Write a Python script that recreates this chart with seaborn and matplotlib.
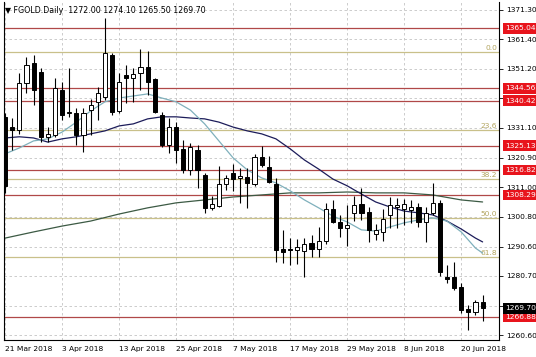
import matplotlib
matplotlib.use("Agg")
import matplotlib.pyplot as plt
import matplotlib.transforms as mtransforms
import seaborn as sns
import numpy as np

sns.set_style("white")
plt.rcParams["font.family"] = ["DejaVu Sans"]

# 日线K线数据
opens = [1335.0, 1331.5, 1330.4, 1346.4, 1353.3, 1350.2, 1328.0, 1328.7, 1344.1, 1336.2,
         1336.2, 1328.7, 1337.2, 1339.9, 1341.7, 1356.0, 1336.9, 1349.1, 1348.1, 1349.8,
         1351.9, 1347.8, 1335.5, 1325.3, 1331.4, 1323.9, 1316.8, 1323.6, 1315.1, 1303.9,
         1304.5, 1312.0, 1315.8, 1314.1, 1314.4, 1312.0, 1321.2, 1317.8, 1312.0, 1289.9,
         1289.8, 1289.6, 1289.2, 1292.0, 1289.9, 1292.6, 1303.5, 1299.1, 1297.1, 1302.2,
         1305.2, 1302.5, 1295.1, 1295.8, 1301.5, 1304.2, 1303.5, 1303.2, 1304.2, 1299.1,
         1302.2, 1305.6, 1280.4, 1280.4, 1276.9, 1269.4, 1268.4, 1272.0]
highs = [1336.2, 1334.5, 1349.8, 1355.3, 1356.0, 1351.5, 1331.4, 1348.1, 1346.8, 1351.5,
         1337.9, 1337.9, 1341.0, 1345.1, 1368.6, 1356.7, 1349.8, 1352.6, 1351.5, 1358.0,
         1357.3, 1348.1, 1336.6, 1334.5, 1333.2, 1327.0, 1326.0, 1325.3, 1315.8, 1307.9,
         1318.2, 1315.1, 1318.8, 1317.5, 1317.5, 1322.3, 1325.0, 1321.6, 1314.1, 1296.4,
         1293.7, 1293.3, 1293.7, 1294.7, 1297.4, 1305.6, 1306.6, 1301.5, 1304.9, 1308.0,
         1310.7, 1304.2, 1298.4, 1303.5, 1307.6, 1307.3, 1306.9, 1306.6, 1305.6, 1304.2,
         1312.4, 1306.6, 1284.5, 1285.5, 1278.3, 1270.8, 1272.5, 1274.1]
lows = [1309.0, 1323.6, 1329.0, 1343.0, 1339.0, 1326.3, 1326.3, 1328.0, 1333.8, 1334.9,
        1325.3, 1322.9, 1328.7, 1333.8, 1340.6, 1335.5, 1336.2, 1339.6, 1340.0, 1344.1,
        1342.4, 1336.2, 1324.6, 1322.6, 1319.2, 1315.8, 1315.1, 1310.7, 1302.2, 1303.2,
        1304.2, 1310.0, 1309.7, 1305.6, 1303.9, 1311.4, 1317.8, 1312.4, 1285.5, 1285.2,
        1284.5, 1284.8, 1280.4, 1287.2, 1287.2, 1291.6, 1298.8, 1294.0, 1290.9, 1299.4,
        1299.8, 1292.3, 1293.0, 1292.6, 1297.1, 1297.1, 1298.1, 1298.8, 1297.4, 1292.3,
        1301.5, 1280.7, 1278.3, 1275.9, 1268.1, 1262.3, 1267.4, 1265.5]
closes = [1311.5, 1330.4, 1346.4, 1352.6, 1344.1, 1328.0, 1329.1, 1344.7, 1335.5, 1336.6,
          1328.7, 1336.2, 1338.9, 1343.0, 1356.7, 1336.6, 1346.8, 1348.1, 1349.5, 1351.9,
          1346.8, 1336.6, 1325.3, 1331.4, 1323.6, 1316.8, 1324.6, 1316.8, 1303.9, 1305.2,
          1312.0, 1314.1, 1313.7, 1314.8, 1312.4, 1321.2, 1318.5, 1312.7, 1289.6, 1288.9,
          1289.4, 1290.6, 1291.6, 1289.9, 1292.6, 1303.5, 1299.1, 1297.1, 1298.1, 1304.9,
          1302.2, 1296.4, 1296.4, 1300.2, 1304.9, 1304.9, 1305.2, 1304.2, 1299.1, 1302.2,
          1305.6, 1282.1, 1279.7, 1276.6, 1269.1, 1268.4, 1271.8, 1269.7]

# 均线 (每两根K线读一个值)
ma_fast = [1322.3, 1324.3, 1326.7, 1327.4, 1329.7, 1333.1, 1336.9, 1340.0, 1341.3, 1342.0,
           1342.7, 1341.3, 1340.0, 1337.2, 1332.5, 1326.7, 1320.9, 1316.8, 1314.1, 1312.4,
           1309.7, 1306.6, 1303.9, 1301.1, 1299.1, 1296.4, 1296.0, 1297.4, 1298.8, 1299.8,
           1300.5, 1299.4, 1295.7, 1290.2, 1288.5]
ma_mid = [1327.7, 1328.1, 1327.7, 1326.3, 1327.4, 1328.1, 1329.1, 1330.1, 1331.8, 1332.5,
          1334.2, 1334.9, 1334.9, 1334.5, 1334.2, 1333.1, 1331.4, 1330.1, 1329.1, 1327.4,
          1324.0, 1320.2, 1317.1, 1313.7, 1311.4, 1308.6, 1305.9, 1304.2, 1302.8, 1302.2,
          1301.5, 1299.4, 1296.7, 1293.6, 1292.3]
# 长周期均线 (每四根K线读一个值)
ma_slow = [1293.6, 1295.7, 1297.7, 1299.4, 1301.8, 1303.9, 1305.6, 1306.6, 1307.6, 1308.3,
           1309.0, 1309.0, 1309.3, 1309.0, 1309.0, 1308.3, 1306.6, 1305.9]

# 水平支撑阻力线和斐波那契线
sr_levels = [1365.04, 1344.56, 1340.42, 1325.13, 1316.82, 1308.29, 1266.88]
fib_names = ["0.0", "23.6", "38.2", "50.0", "61.8"]
fib_prices = [1357.0, 1330.3, 1313.8, 1300.5, 1287.2]

date_labels = ["21 Mar 2018", "3 Apr 2018", "13 Apr 2018", "25 Apr 2018", "7 May 2018",
               "17 May 2018", "29 May 2018", "8 Jun 2018", "20 Jun 2018"]
price_ticks = [1260.6, 1270.5, 1280.7, 1290.6, 1300.8, 1311.0, 1320.9, 1331.1, 1341.2,
               1351.2, 1361.4, 1371.3]
# 被价格标签挡住的刻度不显示文字
hidden_ticks = [1270.5, 1341.2]

n = len(closes)
o = np.array(opens); c = np.array(closes)
x = np.arange(n)
fast_x = list(range(0, n, 2)) + [n - 1]
slow_x = list(range(0, n, 4)) + [n - 1]

FS = 5.4
fig = plt.figure(figsize=(5.36, 3.57), dpi=100)
ax = fig.add_axes([4 / 536, 17 / 357, 495 / 536, 338 / 357])

ax.set_xlim(-0.15, 69.3)
ax.set_ylim(1258.9, 1374.0)

# 网格
ax.set_xticks(range(0, n, 8))
ax.set_xticklabels(date_labels, ha="left", fontsize=FS)
ax.yaxis.tick_right()
ax.set_yticks(price_ticks)
ax.set_yticklabels(["" if v in hidden_ticks else "%.2f" % v for v in price_ticks], fontsize=FS)
ax.tick_params(axis="both", length=3, width=0.6, pad=1, colors="black")
ax.tick_params(axis="y", pad=2)
ax.grid(True, ls=(0, (3, 3)), color="#c4c4c4", lw=0.6)
ax.set_axisbelow(True)

for v in sr_levels:
    ax.axhline(v, color="#b04848", lw=0.9, zorder=1)
for name, v in zip(fib_names, fib_prices):
    ax.axhline(v, color="#c9c08a", lw=0.9, zorder=1)
    ax.text(69.05, v + 0.3, name, ha="right", va="bottom", fontsize=FS, color="#b3a560", zorder=2)

# 均线
sns.lineplot(x=slow_x, y=ma_slow, ax=ax, color="#3c5a44", lw=0.9, zorder=2)
sns.lineplot(x=fast_x, y=ma_mid, ax=ax, color="#1c1c5a", lw=0.9, zorder=2)
sns.lineplot(x=fast_x, y=ma_fast, ax=ax, color="#7fb0bc", lw=0.9, zorder=2)

# K线
up = c >= o
body_low = np.minimum(o, c)
body_h = np.maximum(np.abs(c - o), 0.35)
ax.vlines(x, lows, highs, color="black", lw=0.8, zorder=3)
ax.bar(x, body_h, bottom=body_low, width=0.58,
       color=np.where(up, "white", "black"), edgecolor="black", lw=0.7, zorder=4)

for side in ["left", "bottom", "right"]:
    ax.spines[side].set_color("black")
    ax.spines[side].set_linewidth(0.8)
ax.spines["top"].set_visible(False)
ax.set_xlabel("")
ax.set_ylabel("")

# 右侧价格标签
trans = mtransforms.blended_transform_factory(ax.transAxes, ax.transData)
for v in sr_levels:
    ax.text(1.012, v, "%.2f" % v, transform=trans, ha="left", va="center", fontsize=FS,
            color="white", clip_on=False, zorder=6,
            bbox=dict(boxstyle="square,pad=0.3", fc="#e8141c", ec="none"))
ax.text(1.012, closes[-1], "%.2f" % closes[-1], transform=trans, ha="left", va="center",
        fontsize=FS, color="white", clip_on=False, zorder=6,
        bbox=dict(boxstyle="square,pad=0.3", fc="black", ec="none"))

ax.text(0.002, 0.976, "\u25bc FGOLD.Daily  %.2f %.2f %.2f %.2f" % (opens[-1], highs[-1], lows[-1], closes[-1]),
        transform=ax.transAxes, ha="left", va="center", fontsize=5.7, color="black", zorder=6)

fig.savefig("out.png", dpi=100)
